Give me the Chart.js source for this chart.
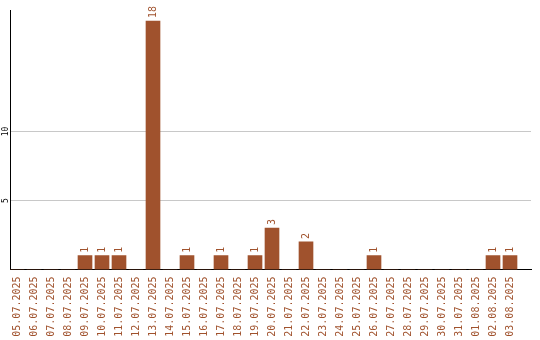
<!DOCTYPE html>
<html>
<head>
<meta charset="utf-8">
<script src="https://cdn.jsdelivr.net/npm/chart.js@4/dist/chart.umd.min.js"></script>
<style>
  html, body { margin: 0; padding: 0; background: #fff; }
  canvas { display: block; }
</style>
</head>
<body>
<canvas id="chart" width="540" height="340"></canvas>
<script>
const dates = [
    '05.07.2025', '06.07.2025', '07.07.2025', '08.07.2025', '09.07.2025',
    '10.07.2025', '11.07.2025', '12.07.2025', '13.07.2025', '14.07.2025',
    '15.07.2025', '16.07.2025', '17.07.2025', '18.07.2025', '19.07.2025',
    '20.07.2025', '21.07.2025', '22.07.2025', '23.07.2025', '24.07.2025',
    '25.07.2025', '26.07.2025', '27.07.2025', '28.07.2025', '29.07.2025',
    '30.07.2025', '31.07.2025', '01.08.2025', '02.08.2025', '03.08.2025'
];
const counts = [0, 0, 0, 0, 1, 1, 1, 0, 18, 0, 1, 0, 1, 0, 1, 3, 0, 2, 0, 0, 0, 1, 0, 0, 0, 0, 0, 0, 1, 1];
const yTicks = [5, 10];

const barColor = '#a0522d';
const mono = '"DejaVu Sans Mono", monospace';

// value labels above bars + rotated y tick labels
const labelPlugin = {
    id: 'labels',
    afterDatasetsDraw(chart) {
        const ctx = chart.ctx;
        const meta = chart.getDatasetMeta(0);
        ctx.save();
        ctx.fillStyle = barColor;
        ctx.font = '10px ' + mono;
        ctx.textAlign = 'left';
        ctx.textBaseline = 'middle';
        meta.data.forEach((bar, i) => {
            if (!counts[i]) return;
            ctx.save();
            ctx.translate(bar.x, bar.y - 3);
            ctx.rotate(-Math.PI / 2);
            ctx.fillText(String(counts[i]), 0, 0);
            ctx.restore();
        });
        const y = chart.scales.y;
        ctx.fillStyle = '#000';
        ctx.font = '8px ' + mono;
        ctx.textAlign = 'center';
        yTicks.forEach(v => {
            ctx.save();
            ctx.translate(6, y.getPixelForValue(v));
            ctx.rotate(-Math.PI / 2);
            ctx.fillText(String(v), 0, 0);
            ctx.restore();
        });
        ctx.restore();
    }
};

new Chart(document.getElementById('chart'), {
    type: 'bar',
    data: {
        datasets: [{
            data: counts.map((v, i) => ({ x: i, y: v })),
            backgroundColor: barColor,
            barThickness: 14
        }]
    },
    options: {
        responsive: false,
        animation: false,
        layout: { padding: { top: 10, right: 9, left: 0, bottom: 0 } },
        plugins: { legend: { display: false }, tooltip: { enabled: false } },
        scales: {
            x: {
                type: 'linear',
                offset: false,
                min: -7 / 17,
                max: 521 / 17 - 7 / 17,
                afterBuildTicks: (scale) => {
                    scale.ticks = dates.map((d, i) => ({ value: i }));
                },
                afterFit: (scale) => { scale.height = 70.5; },
                grid: { display: false, drawTicks: false },
                border: { display: true, color: '#000', width: 1 },
                ticks: {
                    autoSkip: false,
                    minRotation: 90,
                    maxRotation: 90,
                    padding: 7,
                    color: barColor,
                    font: { family: mono, size: 10 },
                    callback: (v) => dates[v]
                }
            },
            y: {
                min: 0,
                max: 18.8,
                afterBuildTicks: (scale) => {
                    scale.ticks = yTicks.map(v => ({ value: v }));
                },
                afterFit: (scale) => { scale.width = 10; },
                grid: { color: '#c8c8c8', drawTicks: false },
                border: { display: true, color: '#000', width: 1 },
                ticks: { display: false }
            }
        }
    },
    plugins: [labelPlugin]
});
</script>
</body>
</html>
